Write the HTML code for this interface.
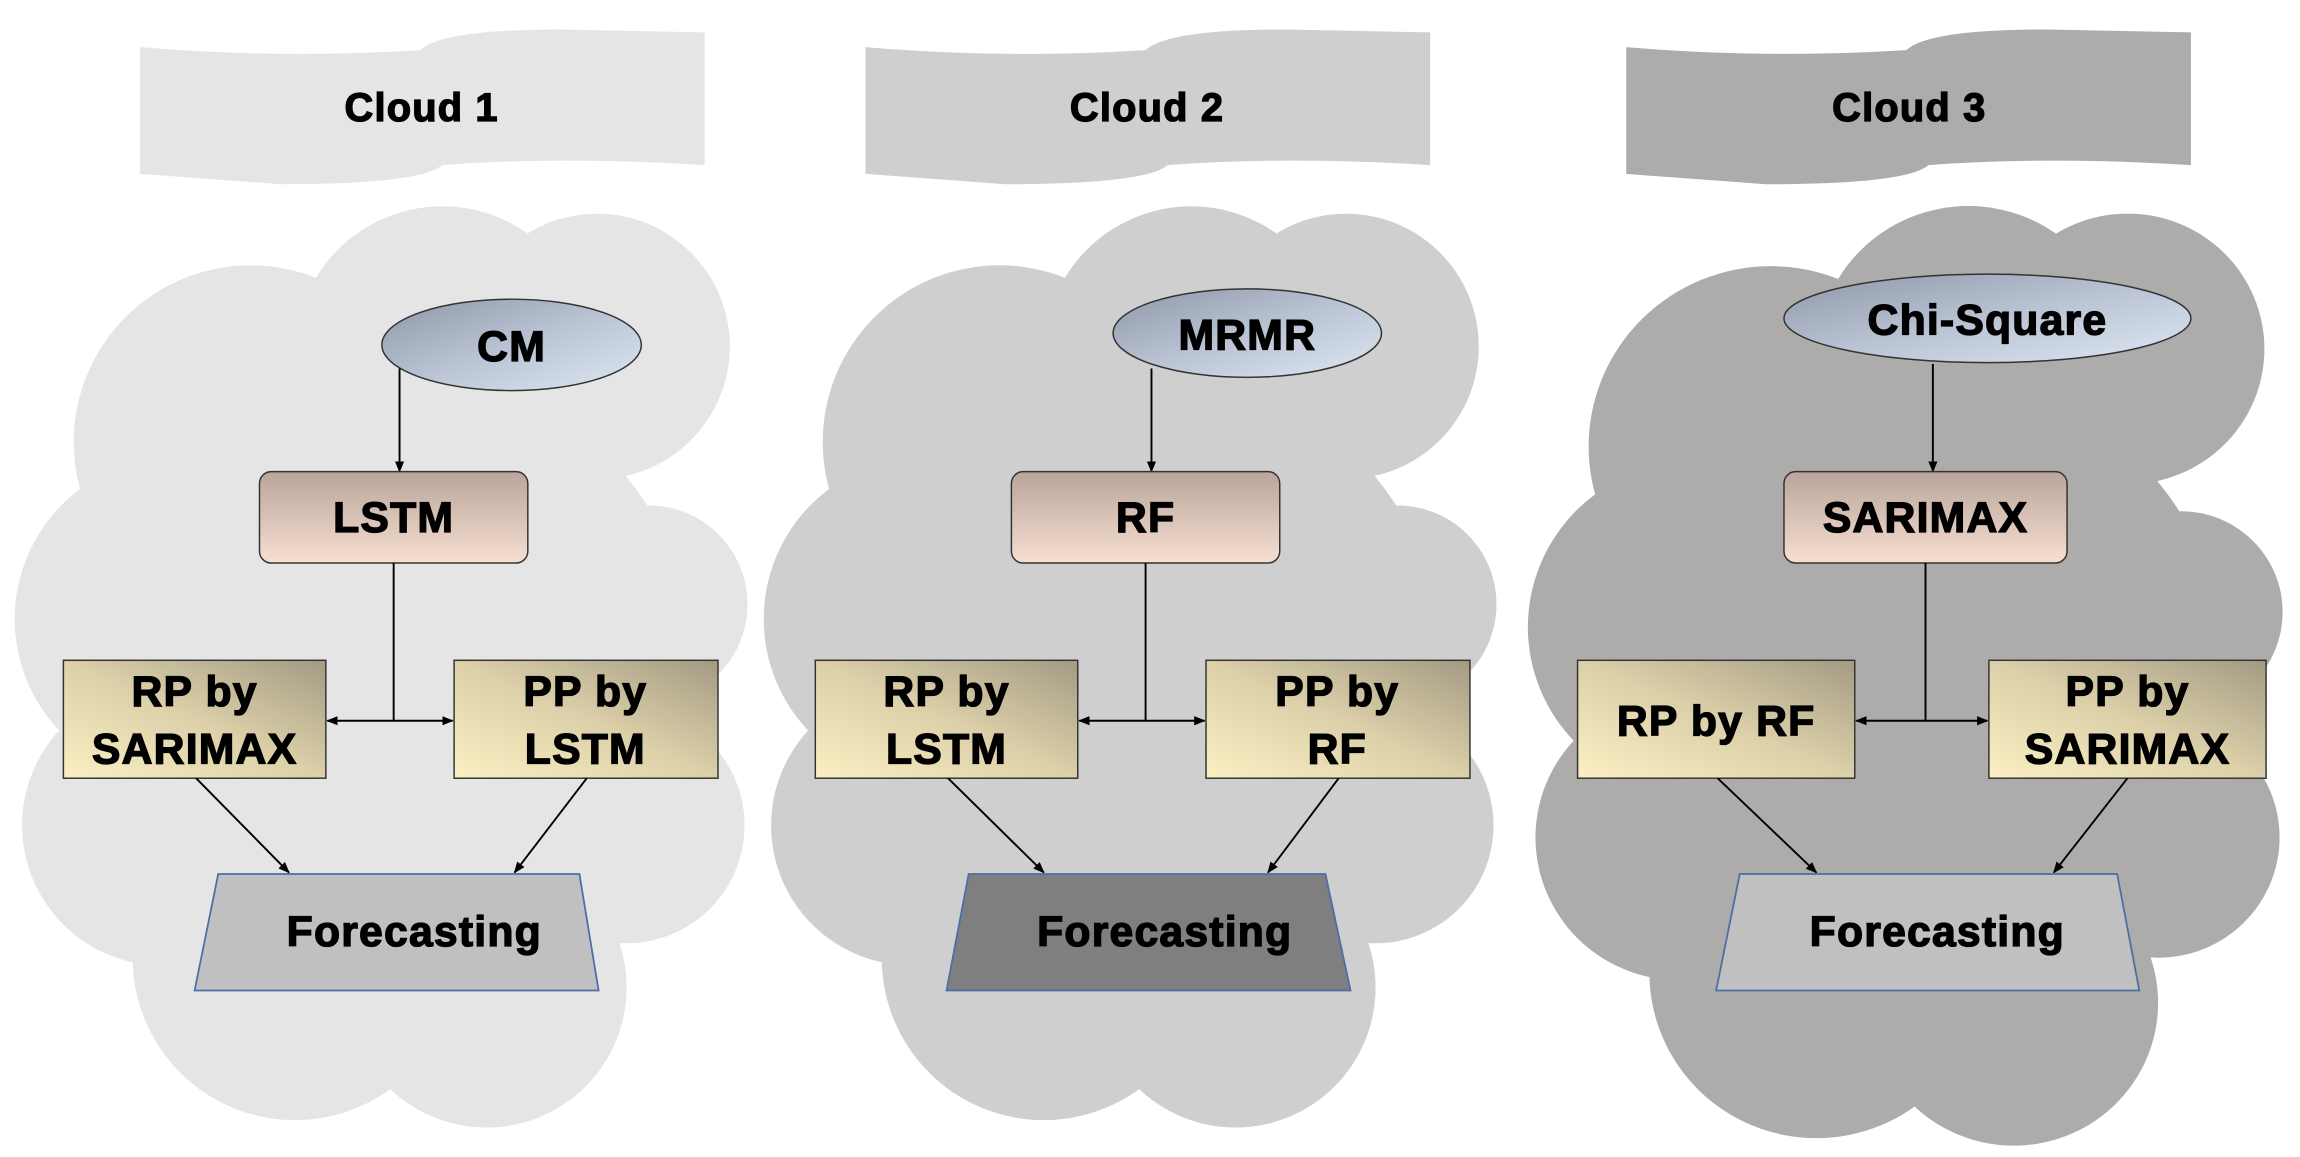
<!DOCTYPE html>
<html><head><meta charset="utf-8"><style>
html,body{margin:0;padding:0;background:#fff;}
svg{display:block;}
text{font-family:"Liberation Sans",Arial,sans-serif;font-weight:bold;fill:#000;text-anchor:middle;stroke:#000;stroke-width:0.9;letter-spacing:0.8px;}
</style></head><body>
<svg width="2300" height="1157" viewBox="0 0 1560 785" preserveAspectRatio="none" xmlns="http://www.w3.org/2000/svg">
<defs>
<linearGradient id="ell" x1="0" y1="0" x2="1" y2="1"><stop offset="0" stop-color="#8d97a8"/><stop offset="0.5" stop-color="#b9c3d3"/><stop offset="1" stop-color="#dfe7f3"/></linearGradient>
<linearGradient id="pink" x1="0" y1="0" x2="0" y2="1"><stop offset="0" stop-color="#b9a59b"/><stop offset="1" stop-color="#f7dfd0"/></linearGradient>
<linearGradient id="tan" x1="0" y1="1" x2="1" y2="0"><stop offset="0" stop-color="#fbefc3"/><stop offset="0.5" stop-color="#dcd0a9"/><stop offset="1" stop-color="#a39a83"/></linearGradient>
<marker id="ar" viewBox="0 0 10 10" refX="9" refY="5" markerWidth="6" markerHeight="6" orient="auto"><path d="M0,1 L10,5 L0,9 Z" fill="#000"/></marker>
<g id="cloud">
<circle cx="170" cy="300" r="120"/><circle cx="300" cy="240" r="100"/><circle cx="405" cy="235" r="90"/>
<circle cx="120" cy="420" r="110"/><circle cx="440" cy="410" r="67"/><circle cx="110" cy="560" r="95"/>
<circle cx="425" cy="560" r="80"/><circle cx="200" cy="650" r="110"/><circle cx="330" cy="670" r="95"/>
<circle cx="270" cy="450" r="200"/>
</g>
<path id="banner" d="M0,12 Q95,20 190,14 Q205,0 285,0 L383,2 L383,92 Q285,86 205,92 Q190,105 95,105 L0,98 Z"/>
</defs>

<!-- Panel 1 -->
<g fill="#e6e5e6"><use href="#banner" x="95" y="20"/><use href="#cloud"/></g>
<text x="286" y="82" font-size="27">Cloud 1</text>
<ellipse cx="347" cy="234" rx="88" ry="31" fill="url(#ell)" stroke="#333" stroke-width="1"/>
<text x="347" y="245" font-size="29">CM</text>
<line x1="271" y1="250" x2="271" y2="320" stroke="#000" stroke-width="1.3" marker-end="url(#ar)"/>
<rect x="176" y="320" width="182" height="62" rx="8" fill="url(#pink)" stroke="#333"/>
<text x="267" y="361" font-size="29">LSTM</text>
<line x1="267" y1="382" x2="267" y2="489" stroke="#000" stroke-width="1.3"/>
<line x1="267" y1="489" x2="222" y2="489" stroke="#000" stroke-width="1.3" marker-end="url(#ar)"/>
<line x1="267" y1="489" x2="307" y2="489" stroke="#000" stroke-width="1.3" marker-end="url(#ar)"/>
<rect x="43" y="448" width="178" height="80" fill="url(#tan)" stroke="#333"/>
<text x="132" y="479" font-size="29">RP by</text><text x="132" y="518" font-size="29">SARIMAX</text>
<rect x="308" y="448" width="179" height="80" fill="url(#tan)" stroke="#333"/>
<text x="397" y="479" font-size="29">PP by</text><text x="397" y="518" font-size="29">LSTM</text>
<line x1="133" y1="528" x2="196" y2="592" stroke="#000" stroke-width="1.3" marker-end="url(#ar)"/>
<line x1="398" y1="528" x2="349" y2="592" stroke="#000" stroke-width="1.3" marker-end="url(#ar)"/>
<polygon points="148,593 393,593 406,672 132,672" fill="#c0c0c0" stroke="#4a6fa5" stroke-width="1.2"/>
<text x="281" y="642" font-size="29">Forecasting</text>

<!-- Panel 2 -->
<g fill="#d0cfd0"><use href="#banner" x="587" y="20"/><use href="#cloud" transform="translate(508,0)"/></g>
<text x="778" y="82" font-size="27">Cloud 2</text>
<ellipse cx="846" cy="226" rx="91" ry="30" fill="url(#ell)" stroke="#333" stroke-width="1"/>
<text x="846" y="237" font-size="29">MRMR</text>
<line x1="781" y1="250" x2="781" y2="320" stroke="#000" stroke-width="1.3" marker-end="url(#ar)"/>
<rect x="686" y="320" width="182" height="62" rx="8" fill="url(#pink)" stroke="#333"/>
<text x="777" y="361" font-size="29">RF</text>
<line x1="777" y1="382" x2="777" y2="489" stroke="#000" stroke-width="1.3"/>
<line x1="777" y1="489" x2="732" y2="489" stroke="#000" stroke-width="1.3" marker-end="url(#ar)"/>
<line x1="777" y1="489" x2="817" y2="489" stroke="#000" stroke-width="1.3" marker-end="url(#ar)"/>
<rect x="553" y="448" width="178" height="80" fill="url(#tan)" stroke="#333"/>
<text x="642" y="479" font-size="29">RP by</text><text x="642" y="518" font-size="29">LSTM</text>
<rect x="818" y="448" width="179" height="80" fill="url(#tan)" stroke="#333"/>
<text x="907" y="479" font-size="29">PP by</text><text x="907" y="518" font-size="29">RF</text>
<line x1="643" y1="528" x2="708" y2="592" stroke="#000" stroke-width="1.3" marker-end="url(#ar)"/>
<line x1="908" y1="528" x2="860" y2="592" stroke="#000" stroke-width="1.3" marker-end="url(#ar)"/>
<polygon points="657,593 899,593 916,672 642,672" fill="#7f7f7f" stroke="#4a6fa5" stroke-width="1.2"/>
<text x="790" y="642" font-size="29">Forecasting</text>

<!-- Panel 3 -->
<g fill="#aeabab"><use href="#banner" x="1103" y="20"/><use href="#cloud" transform="translate(1026,-3) scale(1.03,1.02)"/></g>
<text x="1295" y="82" font-size="27">Cloud 3</text>
<ellipse cx="1348" cy="216" rx="138" ry="30" fill="url(#ell)" stroke="#333" stroke-width="1"/>
<text x="1348" y="227" font-size="29">Chi-Square</text>
<line x1="1311" y1="247" x2="1311" y2="320" stroke="#000" stroke-width="1.3" marker-end="url(#ar)"/>
<rect x="1210" y="320" width="192" height="62" rx="8" fill="url(#pink)" stroke="#333"/>
<text x="1306" y="361" font-size="29">SARIMAX</text>
<line x1="1306" y1="382" x2="1306" y2="489" stroke="#000" stroke-width="1.3"/>
<line x1="1306" y1="489" x2="1259" y2="489" stroke="#000" stroke-width="1.3" marker-end="url(#ar)"/>
<line x1="1306" y1="489" x2="1348" y2="489" stroke="#000" stroke-width="1.3" marker-end="url(#ar)"/>
<rect x="1070" y="448" width="188" height="80" fill="url(#tan)" stroke="#333"/>
<text x="1164" y="499" font-size="29">RP by RF</text>
<rect x="1349" y="448" width="188" height="80" fill="url(#tan)" stroke="#333"/>
<text x="1443" y="479" font-size="29">PP by</text><text x="1443" y="518" font-size="29">SARIMAX</text>
<line x1="1165" y1="528" x2="1232" y2="592" stroke="#000" stroke-width="1.3" marker-end="url(#ar)"/>
<line x1="1443" y1="528" x2="1393" y2="592" stroke="#000" stroke-width="1.3" marker-end="url(#ar)"/>
<polygon points="1180,593 1436,593 1451,672 1164,672" fill="#c0c0c0" stroke="#4a6fa5" stroke-width="1.2"/>
<text x="1314" y="642" font-size="29">Forecasting</text>
</svg>
</body></html>
